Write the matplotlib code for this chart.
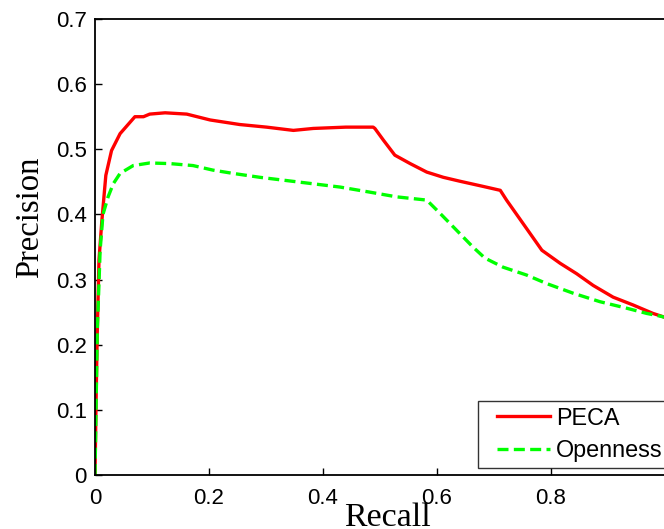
import matplotlib
matplotlib.use("Agg")
import matplotlib.pyplot as plt
from matplotlib.legend_handler import HandlerLine2D

peca_recall = [0.0, 0.002, 0.004, 0.007, 0.012, 0.019, 0.029, 0.044, 0.07, 0.085, 0.096, 0.123,
               0.161, 0.202, 0.254, 0.301, 0.348, 0.383, 0.44, 0.488, 0.491, 0.506, 0.526,
               0.553, 0.582, 0.611, 0.640, 0.681, 0.711, 0.722, 0.751, 0.784, 0.816, 0.845,
               0.874, 0.909, 0.944, 0.979, 1.0]
peca_precision = [0.0, 0.12, 0.22, 0.33, 0.39, 0.46, 0.498, 0.524, 0.55, 0.55, 0.554, 0.556,
                  0.554, 0.545, 0.538, 0.534, 0.529, 0.532, 0.534, 0.534, 0.532, 0.514, 0.491,
                  0.478, 0.465, 0.457, 0.451, 0.443, 0.437, 0.422, 0.386, 0.345, 0.325, 0.309,
                  0.291, 0.273, 0.261, 0.248, 0.242]

open_recall = [0.0, 0.002, 0.004, 0.009, 0.014, 0.023, 0.032, 0.044, 0.067, 0.096, 0.132, 0.172,
               0.207, 0.242, 0.289, 0.336, 0.383, 0.43, 0.477, 0.529, 0.582, 0.605, 0.634,
               0.663, 0.684, 0.716, 0.757, 0.792, 0.839, 0.886, 0.933, 0.968, 0.991, 1.0]
open_precision = [0.0, 0.11, 0.22, 0.345, 0.40, 0.427, 0.447, 0.463, 0.475, 0.479, 0.478, 0.475,
                  0.468, 0.463, 0.457, 0.452, 0.447, 0.442, 0.435, 0.427, 0.422, 0.402, 0.376,
                  0.35, 0.333, 0.319, 0.307, 0.294, 0.279, 0.266, 0.256, 0.248, 0.244, 0.242]

x_ticks = [0, 0.2, 0.4, 0.6, 0.8]
x_tick_labels = ["0", "0.2", "0.4", "0.6", "0.8"]
y_ticks = [0, 0.1, 0.2, 0.3, 0.4, 0.5, 0.6, 0.7]
y_tick_labels = ["0", "0.1", "0.2", "0.3", "0.4", "0.5", "0.6", "0.7"]

W, H = 664, 529
fig = plt.figure(figsize=(W / 100, H / 100), dpi=100)
xmax = 1.02
left_px, top_px, bottom_px = 95, 19, 475
right_px = left_px + 570 * xmax
ax = fig.add_axes([left_px / W, (H - bottom_px) / H, (right_px - left_px) / W, (bottom_px - top_px) / H])

ax.plot(peca_recall, peca_precision, color="#ff0000", lw=2.4, label="PECA")
ax.plot(open_recall, open_precision, color="#00ff00", lw=2.4, ls=(0, (3.3, 1.6)), label="Openness")

ax.set_xlim(0, xmax)
ax.set_ylim(0, 0.7)
ax.set_xticks(x_ticks)
ax.set_xticklabels(x_tick_labels)
ax.set_yticks(y_ticks)
ax.set_yticklabels(y_tick_labels)
ax.tick_params(direction="in", length=5, width=1, labelsize=16)
ax.tick_params(axis="y", pad=6)
ax.tick_params(axis="x", pad=9)
for lab in ax.get_xticklabels() + ax.get_yticklabels():
    lab.set_fontfamily("Liberation Sans")
for s in ax.spines.values():
    s.set_linewidth(1.3)
    s.set_color("black")

fig.text(30 / W, 1 - 217 / H, "Precision", rotation=90, ha="center", va="center",
         fontfamily="Liberation Serif", fontsize=23.5)
fig.text(387 / W, 1 - 526 / H, "Recall", ha="center", va="baseline",
         fontfamily="Liberation Serif", fontsize=24.5)

fs = 16.8
leg = ax.legend(loc="lower left", bbox_to_anchor=(478 / W, (H - 468) / H), bbox_transform=fig.transFigure,
                prop={"family": "Liberation Sans", "size": fs},
                frameon=True, fancybox=False, edgecolor="black", handlelength=2.83,
                borderpad=0.25, labelspacing=0.41, handletextpad=0.26, borderaxespad=0,
                handler_map={plt.Line2D: HandlerLine2D(xpad=0.56)})
leg.get_frame().set_linewidth(1.0)

fig.savefig("out.png", dpi=100)
